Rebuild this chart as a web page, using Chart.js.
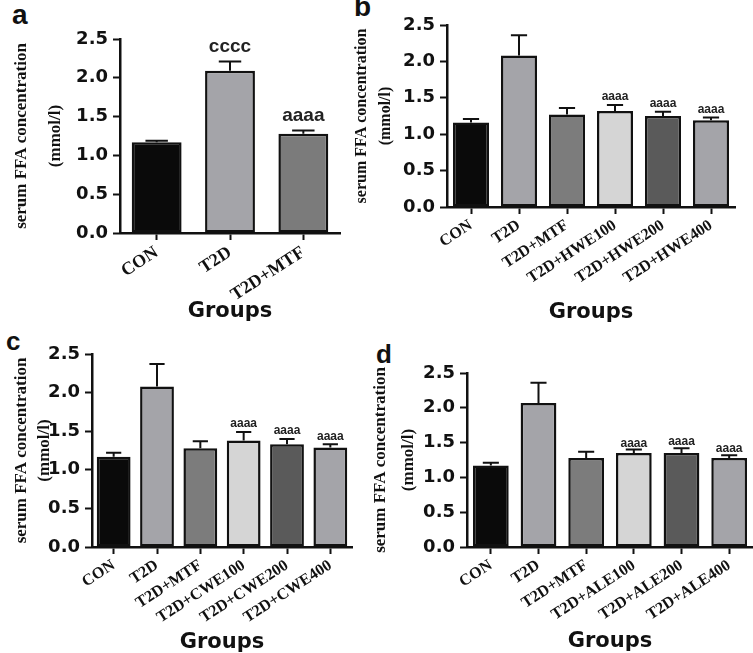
<!DOCTYPE html>
<html>
<head>
<meta charset="utf-8">
<script src="https://cdn.jsdelivr.net/npm/chart.js@4.4.0/dist/chart.umd.min.js"></script>
<title>Serum FFA concentration</title>
<style>
  html, body { margin: 0; padding: 0; background: #fff; overflow: hidden; width: 753px; height: 653px; }
  canvas { position: absolute; left: 0; top: 0; }
  .tag { position: absolute; font-family: "Liberation Sans", Arial, sans-serif; font-weight: bold; line-height: 1; color: #111; }
</style>
</head>
<body>
<div class="tag" style="left:12px;top:1px;font-size:28px">a</div>
<div class="tag" style="left:354px;top:-7px;font-size:28px">b</div>
<div class="tag" style="left:6px;top:328px;font-size:26px">c</div>
<div class="tag" style="left:376px;top:341px;font-size:26px">d</div>

<canvas id="panel-a" width="753" height="680"></canvas>
<canvas id="panel-b" width="753" height="680"></canvas>
<canvas id="panel-c" width="753" height="680"></canvas>
<canvas id="panel-d" width="753" height="680"></canvas>

<script>
    // panel a
    var groupsA = ['CON', 'T2D', 'T2D+MTF'];
    var meanA = [1.17, 2.09, 1.28];
    var semA = [0.02, 0.12, 0.04];
    var sigA = ['', 'cccc', 'aaaa'];

    // panel b
    var groupsB = ['CON', 'T2D', 'T2D+MTF', 'T2D+HWE100', 'T2D+HWE200', 'T2D+HWE400'];
    var meanB = [1.16, 2.08, 1.27, 1.32, 1.25, 1.19];
    var semB = [0.05, 0.28, 0.09, 0.08, 0.06, 0.04];
    var sigB = ['', '', '', 'aaaa', 'aaaa', 'aaaa'];

    // panel c
    var groupsC = ['CON', 'T2D', 'T2D+MTF', 'T2D+CWE100', 'T2D+CWE200', 'T2D+CWE400'];
    var meanC = [1.17, 2.08, 1.28, 1.38, 1.33, 1.29];
    var semC = [0.05, 0.29, 0.09, 0.11, 0.07, 0.04];
    var sigC = ['', '', '', 'aaaa', 'aaaa', 'aaaa'];

    // panel d
    var groupsD = ['CON', 'T2D', 'T2D+MTF', 'T2D+ALE100', 'T2D+ALE200', 'T2D+ALE400'];
    var meanD = [1.17, 2.07, 1.28, 1.35, 1.35, 1.28];
    var semD = [0.04, 0.29, 0.09, 0.05, 0.07, 0.04];
    var sigD = ['', '', '', 'aaaa', 'aaaa', 'aaaa'];

    var yTicks = [0, 0.5, 1.0, 1.5, 2.0, 2.5];

    var colorsA = ['#0a0a0a', '#a4a4a9', '#7b7b7b'];
    var colors6 = ['#0a0a0a', '#a4a4a9', '#7c7c7c', '#d5d5d5', '#5a5a5a', '#a4a4a9'];

    var W = 753, H = 680;
    var serif = '"Liberation Serif", "Times New Roman", serif';

    // draws SEM whiskers and the significance letters above them
    function errorBars(sems, letters, g) {
        return {
            id: 'errorBars',
            afterDatasetsDraw: function (chart) {
                var ctx = chart.ctx;
                var y = chart.scales.y;
                var values = chart.data.datasets[0].data;
                chart.getDatasetMeta(0).data.forEach(function (bar, i) {
                    var top = y.getPixelForValue(values[i] + sems[i]);
                    var cap = bar.width * 0.45 / 2;
                    ctx.save();
                    ctx.strokeStyle = '#111';
                    ctx.lineWidth = 2;
                    ctx.beginPath();
                    ctx.moveTo(bar.x, bar.y);
                    ctx.lineTo(bar.x, top);
                    ctx.moveTo(bar.x - cap, top);
                    ctx.lineTo(bar.x + cap, top);
                    ctx.stroke();
                    if (letters[i]) {
                        ctx.fillStyle = '#222';
                        ctx.font = 'bold ' + g.sigFont + 'px "Liberation Sans", Arial, sans-serif';
                        ctx.textAlign = 'center';
                        ctx.textBaseline = 'middle';
                        ctx.fillText(letters[i], bar.x, top - g.gap);
                    }
                    ctx.restore();
                });
            }
        };
    }

    function makePanel(id, labels, means, sems, letters, colors, g) {
        var tickGrid = {
            display: true,
            drawOnChartArea: false,
            drawTicks: true,
            tickLength: 7,
            tickWidth: 2,
            tickColor: '#111'
        };
        return new Chart(document.getElementById(id), {
            type: 'bar',
            data: {
                labels: labels,
                datasets: [{
                    data: means,
                    backgroundColor: colors,
                    borderColor: '#111',
                    borderWidth: 2.5,
                    borderSkipped: false,
                    barPercentage: g.bar,
                    categoryPercentage: 1
                }]
            },
            options: {
                responsive: false,
                animation: false,
                devicePixelRatio: 1,
                layout: {
                    padding: { left: g.titleLeft, top: g.top, right: W - g.right, bottom: H - g.bottom - g.xh }
                },
                plugins: { legend: { display: false }, tooltip: { enabled: false } },
                scales: {
                    x: {
                        grid: Object.assign({ offset: false }, tickGrid),
                        border: { color: '#111', width: 2.5 },
                        ticks: {
                            font: { family: serif, weight: 'bold', size: g.xFont },
                            color: '#111',
                            minRotation: 33,
                            maxRotation: 33,
                            autoSkip: false,
                            padding: 2
                        },
                        title: {
                            display: true,
                            text: 'Groups',
                            color: '#111',
                            padding: 0,
                            font: { family: '"DejaVu Sans", sans-serif', weight: 'bold', size: 21, lineHeight: 1.2 }
                        },
                        afterFit: function (s) { s.height = g.xh; }
                    },
                    y: {
                        min: 0,
                        max: 2.5,
                        afterBuildTicks: function (s) { s.ticks = yTicks.map(function (v) { return { value: v }; }); },
                        grid: tickGrid,
                        border: { color: '#111', width: 2.5 },
                        ticks: {
                            callback: function (v) { return Number(v).toFixed(1); },
                            font: { family: '"DejaVu Sans", sans-serif', weight: 'bold', size: 18 },
                            color: '#111',
                            padding: 5
                        },
                        title: {
                            display: true,
                            text: ['serum FFA concentration', '(mmol/l)'],
                            color: '#111',
                            padding: 0,
                            font: { family: serif, weight: 'bold', size: g.yFont, lineHeight: g.yLine + 'px' }
                        },
                        afterFit: function (s) { s.width = g.left - g.titleLeft; }
                    }
                }
            },
            plugins: [errorBars(sems, letters, g)]
        });
    }

    makePanel('panel-a', groupsA, meanA, semA, sigA, colorsA,
        { titleLeft: 5, left: 120, right: 340, top: 39, bottom: 233, xh: 91.6, yFont: 17, yLine: 34, xFont: 18, bar: 0.68, gap: 15, sigFont: 19 });
    makePanel('panel-b', groupsB, meanB, semB, sigB, colors6,
        { titleLeft: 350, left: 447, right: 735, top: 25, bottom: 207, xh: 118.6, yFont: 16, yLine: 24, xFont: 16, bar: 0.75, gap: 8, sigFont: 12 });
    makePanel('panel-c', groupsC, meanC, semC, sigC, colors6,
        { titleLeft: 10.5, left: 92, right: 352, top: 354, bottom: 547, xh: 108.6, yFont: 17, yLine: 23, xFont: 16, bar: 0.78, gap: 8, sigFont: 12 });
    makePanel('panel-d', groupsD, meanD, semD, sigD, colors6,
        { titleLeft: 367, left: 467, right: 753, top: 373, bottom: 547, xh: 107.6, yFont: 17, yLine: 28, xFont: 16, bar: 0.75, gap: 6, sigFont: 12 });
</script>
</body>
</html>
